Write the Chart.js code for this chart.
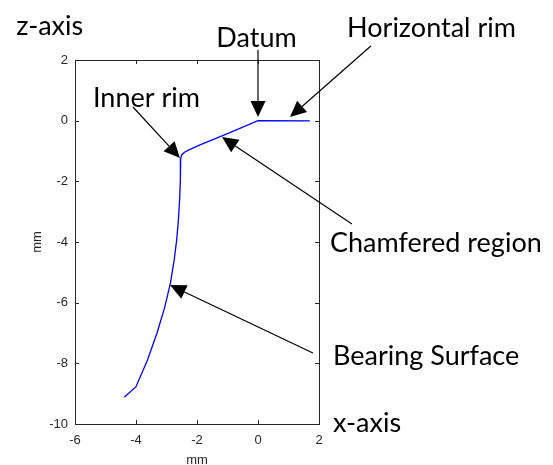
<!DOCTYPE html>
<html lang="en">
<head>
<meta charset="UTF-8">
<title>Rim profile</title>
<script src="https://cdn.jsdelivr.net/npm/chart.js"></script>
<style>
    body {
        margin: 0;
        padding: 0;
        background: #fff;
    }
    #wrap {
        width: 553px;
        height: 465px;
    }
</style>
</head>
<body>
<div id="wrap"><canvas id="chart"></canvas></div>
<script>
// profile of the rim (x and z in mm)
const profileX = [1.70, 0, -1.0, -1.9, -2.3, -2.42, -2.50, -2.535, -2.541, -2.548, -2.570, -2.610, -2.666, -2.748, -2.869, -3.066, -3.311, -3.623, -4.0, -4.384];
const profileZ = [-0.01, 0, -0.43, -0.80, -0.98, -1.05, -1.13, -1.25, -1.46, -1.96, -2.62, -3.28, -3.93, -4.59, -5.35, -6.18, -7.0, -7.89, -8.77, -9.12];

const xTicks = [-6, -4, -2, 0, 2];
const zTicks = [-10, -8, -6, -4, -2, 0, 2];

// callout texts and arrows, in data units (x, z)
const noteText = ['z-axis', 'Datum', 'Horizontal rim', 'Inner rim', 'Chamfered region', 'Bearing Surface', 'x-axis'];
const noteAt = [[-7.93, 2.82], [-0.05, 2.43], [2.92, 2.76], [-5.41, 0.45], [2.36, -4.33], [2.46, -8.06], [2.46, -10.26]];
const noteAlign = ['left', 'center', 'left', 'left', 'left', 'left', 'left'];
const arrowFrom = [[0, 2.33], [3.70, 2.46], [-4.10, 0.45], [3.08, -3.41], [1.80, -7.66]];
const arrowTo = [[0, 0.12], [1.05, 0.12], [-2.56, -1.23], [-1.18, -0.54], [-2.885, -5.42]];

const axisColor = '#262626';
const tickFont = { family: 'Liberation Sans, Arial, sans-serif', size: 13 };

// box round the axes with inward tick marks, like matlab does
const frame = {
    id: 'frame',
    afterDatasetsDraw(chart) {
        const { ctx, chartArea: a, scales: { x, y } } = chart;
        const len = 4;
        ctx.save();
        ctx.strokeStyle = axisColor;
        ctx.lineWidth = 1;
        ctx.strokeRect(Math.round(a.left) + 0.5, Math.round(a.top) + 0.5, Math.round(a.width), Math.round(a.height));
        ctx.beginPath();
        xTicks.forEach(v => {
            const px = Math.round(x.getPixelForValue(v)) + 0.5;
            ctx.moveTo(px, a.bottom); ctx.lineTo(px, a.bottom - len);
            ctx.moveTo(px, a.top); ctx.lineTo(px, a.top + len);
        });
        zTicks.forEach(v => {
            const py = Math.round(y.getPixelForValue(v)) + 0.5;
            ctx.moveTo(a.left, py); ctx.lineTo(a.left + len, py);
            ctx.moveTo(a.right, py); ctx.lineTo(a.right - len, py);
        });
        ctx.stroke();
        ctx.restore();
    }
};

// callouts: text and black arrows with filled heads
const callouts = {
    id: 'callouts',
    afterDraw(chart) {
        const { ctx, scales: { x, y } } = chart;
        ctx.save();
        ctx.fillStyle = '#000';
        ctx.strokeStyle = '#000';
        ctx.lineWidth = 1.2;
        arrowFrom.forEach((p, i) => {
            const x0 = x.getPixelForValue(p[0]), y0 = y.getPixelForValue(p[1]);
            const x1 = x.getPixelForValue(arrowTo[i][0]), y1 = y.getPixelForValue(arrowTo[i][1]);
            const ang = Math.atan2(y1 - y0, x1 - x0);
            const head = 16, half = 7.5;
            const bx = x1 - head * Math.cos(ang), by = y1 - head * Math.sin(ang);
            ctx.beginPath();
            ctx.moveTo(x0, y0);
            ctx.lineTo(bx, by);
            ctx.stroke();
            ctx.beginPath();
            ctx.moveTo(x1, y1);
            ctx.lineTo(bx + half * Math.sin(ang), by - half * Math.cos(ang));
            ctx.lineTo(bx - half * Math.sin(ang), by + half * Math.cos(ang));
            ctx.closePath();
            ctx.fill();
        });
        ctx.font = '27px Lato, sans-serif';
        ctx.textBaseline = 'alphabetic';
        noteText.forEach((t, i) => {
            ctx.textAlign = noteAlign[i];
            ctx.fillText(t, x.getPixelForValue(noteAt[i][0]), y.getPixelForValue(noteAt[i][1]));
        });
        ctx.restore();
    }
};

const ctx = document.getElementById('chart').getContext('2d');
const chart = new Chart(ctx, {
    type: 'scatter',
    data: {
        datasets: [{
            data: profileX.map((v, i) => ({ x: v, y: profileZ[i] })),
            showLine: true,
            borderColor: '#0000ff',
            borderWidth: 1.3,
            pointRadius: 0,
            tension: 0,
            fill: false
        }]
    },
    options: {
        responsive: true,
        maintainAspectRatio: false,
        animation: false,
        devicePixelRatio: 1,
        layout: { padding: { top: 60, right: 234, left: 0, bottom: 0 } },
        plugins: {
            legend: { display: false },
            tooltip: { enabled: false }
        },
        scales: {
            x: {
                type: 'linear',
                min: -6,
                max: 2,
                afterFit: s => { s.height = 41; },
                afterBuildTicks: s => { s.ticks = xTicks.map(v => ({ value: v })); },
                grid: { display: false, drawTicks: false },
                border: { display: false },
                ticks: { color: axisColor, font: tickFont, padding: 9, maxRotation: 0 },
                title: { display: true, text: 'mm', color: axisColor, font: tickFont, padding: { top: 0, bottom: -3 } }
            },
            y: {
                type: 'linear',
                min: -10,
                max: 2,
                afterFit: s => { s.width = 75; },
                afterBuildTicks: s => { s.ticks = zTicks.map(v => ({ value: v })); },
                grid: { display: false, drawTicks: false },
                border: { display: false },
                ticks: { color: axisColor, font: tickFont, padding: 7 },
                title: { display: true, text: 'mm', color: axisColor, font: tickFont, padding: { top: 30, bottom: 0 } }
            }
        }
    },
    plugins: [frame, callouts]
});
</script>
</body>
</html>
